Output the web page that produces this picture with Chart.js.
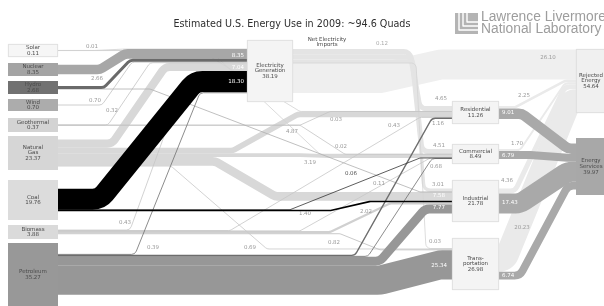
<!DOCTYPE html>
<html lang="en">
<head>
<meta charset="UTF-8">
<title>Estimated U.S. Energy Use in 2009</title>
<script src="https://cdn.jsdelivr.net/npm/chart.js"></script>
<style>
  html, body { margin: 0; padding: 0; background: #fff; }
</style>
</head>
<body>
<canvas id="flowChart" width="604" height="306"></canvas>
<script>
// --- data (quads) ---
const titleText = 'Estimated U.S. Energy Use in 2009: ~94.6 Quads';
const nodeNames = ['Solar', 'Nuclear', 'Hydro', 'Wind', 'Geothermal', 'Natural Gas', 'Coal', 'Biomass', 'Petroleum',
  'Electricity Generation', 'Net Electricity Imports', 'Residential', 'Commercial', 'Industrial', 'Transportation',
  'Rejected Energy', 'Energy Services'];
const nodeLabels = ['Solar', 'Nuclear', 'Hydro', 'Wind', 'Geothermal', 'Natural\nGas', 'Coal', 'Biomass', 'Petroleum',
  'Electricity\nGeneration', 'Net Electricity\nImports', 'Residential', 'Commercial', 'Industrial', 'Trans-\nportation',
  'Rejected\nEnergy', 'Energy\nServices'];
const nodeValues = [0.11, 8.35, 2.68, 0.70, 0.37, 23.37, 19.76, 3.88, 35.27,
  38.19, 0.12, 11.26, 8.49, 21.78, 26.98, 54.64, 39.97];

const flowFrom = [
  'Solar', 'Solar', 'Solar',
  'Nuclear',
  'Hydro', 'Hydro',
  'Wind',
  'Geothermal', 'Geothermal', 'Geothermal',
  'Natural Gas', 'Natural Gas', 'Natural Gas', 'Natural Gas', 'Natural Gas',
  'Coal', 'Coal', 'Coal',
  'Biomass', 'Biomass', 'Biomass', 'Biomass', 'Biomass',
  'Petroleum', 'Petroleum', 'Petroleum', 'Petroleum', 'Petroleum',
  'Electricity Generation', 'Electricity Generation', 'Electricity Generation', 'Electricity Generation', 'Electricity Generation',
  'Residential', 'Residential', 'Commercial', 'Commercial',
  'Industrial', 'Industrial', 'Transportation', 'Transportation'
];
const flowTo = [
  'Electricity Generation', 'Residential', 'Commercial',
  'Electricity Generation',
  'Electricity Generation', 'Industrial',
  'Electricity Generation',
  'Electricity Generation', 'Residential', 'Commercial',
  'Electricity Generation', 'Residential', 'Commercial', 'Industrial', 'Transportation',
  'Electricity Generation', 'Commercial', 'Industrial',
  'Electricity Generation', 'Residential', 'Commercial', 'Industrial', 'Transportation',
  'Electricity Generation', 'Residential', 'Commercial', 'Industrial', 'Transportation',
  'Residential', 'Commercial', 'Industrial', 'Transportation', 'Rejected Energy',
  'Rejected Energy', 'Energy Services', 'Rejected Energy', 'Energy Services',
  'Rejected Energy', 'Energy Services', 'Rejected Energy', 'Energy Services'
];
const flowValues = [
  0.01, 0.09, 0.01,
  8.35,
  2.66, 0.02,
  0.70,
  0.32, 0.03, 0.02,
  7.04, 4.87, 3.19, 7.58, 0.69,
  18.30, 0.06, 1.40,
  0.43, 0.43, 0.11, 2.02, 0.82,
  0.39, 1.16, 0.68, 7.77, 25.34,
  4.65, 4.51, 3.01, 0.03, 26.10,
  2.25, 9.01, 1.70, 6.79,
  4.36, 17.43, 20.23, 6.74
];

// --- layout (chart units; 1 quad = K units of the y scale) ---
const K = 1.15;
const nodeBox = {
  'Solar': [8, 44, 50, 13], 'Nuclear': [8, 63, 50, 13], 'Hydro': [8, 81, 50, 13],
  'Wind': [8, 99, 50, 12], 'Geothermal': [8, 118, 50, 14], 'Natural Gas': [8, 136, 50, 34],
  'Coal': [8, 180, 50, 40], 'Biomass': [8, 225, 50, 14], 'Petroleum': [8, 243, 50, 63],
  'Electricity Generation': [247, 40, 46, 62], 'Net Electricity Imports': [307, 36, 40, 12],
  'Residential': [452, 101, 47, 23], 'Commercial': [452, 144, 47, 20],
  'Industrial': [452, 180, 47, 42], 'Transportation': [452, 238, 47, 52],
  'Rejected Energy': [576, 49, 30, 64], 'Energy Services': [576, 138, 30, 57]
};
const nodeFill = {
  'Solar': '#f6f6f6', 'Nuclear': '#a4a4a4', 'Hydro': '#717171', 'Wind': '#acacac',
  'Geothermal': '#d3d3d3', 'Natural Gas': '#d6d6d6', 'Coal': '#dcdcdc', 'Biomass': '#dadada',
  'Petroleum': '#989898', 'Electricity Generation': '#f4f4f4', 'Residential': '#f4f4f4',
  'Commercial': '#f4f4f4', 'Industrial': '#f4f4f4', 'Transportation': '#f4f4f4',
  'Rejected Energy': '#f0f0f0', 'Energy Services': '#a8a8a8'
};
const bandColor = {
  'Solar': '#dcdcdc', 'Nuclear': '#a7a7a7', 'Hydro': '#6a6a6a', 'Wind': '#c2c2c2',
  'Geothermal': '#cbcbcb', 'Natural Gas': '#d8d8d8', 'Coal': '#000000', 'Biomass': '#d0d0d0',
  'Petroleum': '#979797', 'Electricity Generation': '#e4e4e4'
};
const lineColor = {
  'Solar': '#d2d2d2', 'Hydro': '#b0b0b0', 'Geothermal': '#c4c4c4', 'Natural Gas': '#c8c8c8',
  'Coal': '#333333', 'Biomass': '#c6c6c6', 'Petroleum': '#6e6e6e', 'Electricity Generation': '#d4d4d4'
};
// where each band makes its diagonal run: [start x, end x]
const flowBend = [
  [95, 125], [200, 300], [210, 320],
  [100, 125],
  [104, 130], [150, 420],
  [102, 132],
  [108, 150], [300, 330], [300, 345],
  [112, 165], [233, 298], [300, 330], [215, 275], [171, 267],
  [100, 195], [290, 420], [330, 370],
  [130, 180], [230, 420], [300, 430], [330, 390], [340, 380],
  [135, 200], [355, 432], [368, 432], [380, 425], [380, 440],
  [410, 420], [412, 422], [414, 424], [416, 426], [380, 440],
  [515, 565], [522, 568], [520, 565], [530, 568],
  [515, 565], [520, 568], [505, 570], [520, 568]
];
// value label per band: [x, dy from band centre, style, align]
const flowLabelAt = [
  [92, -3.5, 'g'], null, null,
  [244, 2, 'w', 'right'],
  [97, -8.5, 'g'], null,
  [95, -4.5, 'g'],
  [112, -8, 'g'], [336, 8.5, 'g'], [341, -5, 'g'],
  [244, 1, 'w', 'right'], [292, 13.5, 'g'], [310, 7, 'g'], [445, -1, 'w', 'right'], [250, 13.5, 'g'],
  [244, 0.5, 'w', 'right'], [351, -11.5, 'd'], [305, 3, 'g'],
  [125, -7, 'g'], [394, -7, 'g'], [379, -3, 'g'], [366, -3, 'g'], [334, 9, 'g'],
  [153, 38, 'g'], [438, 5, 'g'], [436, 8.5, 'g'], [445, -1.5, 'w', 'right'], [447, 1, 'w', 'right'],
  [441, -10, 'g'], [439, -6.5, 'g'], [438, -6, 'g'], [435, -7, 'g'], [548, -7.5, 'g'],
  [524, -6.5, 'g'], [502, -1.5, 'w', 'left'], [517, -7, 'g'], [502, 1, 'w', 'left'],
  [507, -10, 'g'], [502, -0.5, 'w', 'left'], [522, 9.6, 'g'], [502, 0, 'w', 'left']
];
const labelColor = { g: '#9a9a9a', w: '#ffffff', d: '#555555' };
const FONT = '"DejaVu Sans", Verdana, sans-serif';

function lum(hex) {
  const n = parseInt(hex.slice(1), 16);
  return 0.3 * (n >> 16) + 0.59 * ((n >> 8) & 255) + 0.11 * (n & 255);
}

// stack bands at each node, top to bottom, centred in the node box
function stackFlows() {
  const outs = {}, ins = {};
  nodeNames.forEach(n => { outs[n] = []; ins[n] = []; });
  flowFrom.forEach((f, i) => { outs[f].push(i); ins[flowTo[i]].push(i); });
  const rankOut = (src, i) => (src === 'Electricity Generation' && flowTo[i] === 'Rejected Energy') ? 999 : nodeBox[flowTo[i]][1];
  const a = [], b = [];
  nodeNames.forEach(n => {
    const box = nodeBox[n];
    const o = outs[n].sort((p, q) => rankOut(n, p) - rankOut(n, q));
    let tot = o.reduce((s, i) => s + flowValues[i] * K, 0);
    let y = box[1] + (box[3] - tot) / 2;
    o.forEach(i => { const w = flowValues[i] * K; a[i] = y + w / 2; y += w; });
    const inn = ins[n].sort((p, q) => nodeBox[flowFrom[p]][1] - nodeBox[flowFrom[q]][1]);
    tot = inn.reduce((s, i) => s + flowValues[i] * K, 0);
    y = box[1] + (box[3] - tot) / 2;
    inn.forEach(i => { const w = flowValues[i] * K; b[i] = y + w / 2; y += w; });
  });
  return { a, b };
}

const energyFlows = {
  id: 'energyFlows',
  afterDatasetsDraw(chart) {
    const ctx = chart.ctx;
    const xs = chart.scales.x, ys = chart.scales.y;
    const px = v => xs.getPixelForValue(v);
    const py = v => ys.getPixelForValue(v);
    const thick = v => Math.abs(py(v * K) - py(0));
    const { a, b } = stackFlows();

    const geo = flowValues.map((v, i) => {
      const sb = nodeBox[flowFrom[i]], tb = nodeBox[flowTo[i]];
      const x0 = sb[0] + sb[2], x1 = tb[0];
      const bx0 = Math.max(flowBend[i][0], x0), bx1 = Math.min(flowBend[i][1], x1);
      const w = thick(v);
      let color;
      if (flowTo[i] === 'Rejected Energy') color = flowFrom[i] === 'Electricity Generation' ? '#efefef' : '#eaeaea';
      else if (flowTo[i] === 'Energy Services') color = '#a9a9a9';
      else color = (w < 1.6 && lineColor[flowFrom[i]]) ? lineColor[flowFrom[i]] : bandColor[flowFrom[i]];
      return { x0, x1, bx0, bx1, a: a[i], b: b[i], w, color };
    });

    const order = geo.map((g, i) => i).sort((p, q) => (lum(geo[q].color) - lum(geo[p].color)) || (flowValues[q] - flowValues[p]));

    ctx.save();
    ctx.lineCap = 'butt';
    ctx.lineJoin = 'round';
    order.forEach(i => {
      const g = geo[i];
      const A = py(g.a), B = py(g.b), X0 = px(g.x0), X1 = px(g.x1), BX0 = px(g.bx0), BX1 = px(g.bx1);
      ctx.beginPath();
      ctx.moveTo(X0, A);
      if (Math.abs(B - A) < 0.05) {
        ctx.lineTo(X1, B);
      } else {
        const dx = BX1 - BX0, dy = B - A;
        const t = Math.tan(Math.atan2(Math.abs(dy), dx) / 2);
        const avail = Math.min(BX0 - X0, X1 - BX1, Math.hypot(dx, dy) / 2);
        const r = Math.min(g.w / 2 + 5, t > 0 ? avail / t : 0);
        if (r < 0.5) {
          ctx.lineTo(BX0, A); ctx.lineTo(BX1, B); ctx.lineTo(X1, B);
        } else {
          ctx.arcTo(BX0, A, BX1, B, r);
          ctx.arcTo(BX1, B, X1, B, r);
          ctx.lineTo(X1, B);
        }
      }
      ctx.lineWidth = Math.max(g.w, 0.8);
      ctx.strokeStyle = g.color;
      ctx.stroke();
    });

    // node boxes and labels
    ctx.textAlign = 'center';
    ctx.textBaseline = 'middle';
    nodeNames.forEach((n, i) => {
      const [x, y, w, h] = nodeBox[n];
      const lines = nodeLabels[i].split('\n');
      if (nodeFill[n]) {
        ctx.fillStyle = nodeFill[n];
        ctx.fillRect(px(x), py(y), px(x + w) - px(x), py(y + h) - py(y));
        if (lum(nodeFill[n]) > 225) {
          ctx.strokeStyle = '#d6d6d6';
          ctx.lineWidth = 0.7;
          ctx.strokeRect(px(x) + 0.35, py(y) + 0.35, px(x + w) - px(x) - 0.7, py(y + h) - py(y) - 0.7);
        }
        lines.push(nodeValues[i].toFixed(2));
      }
      ctx.font = '5.5px ' + FONT;
      ctx.fillStyle = '#4a4a4a';
      const lh = 5.8, cy = py(y + h / 2);
      lines.forEach((s, k) => ctx.fillText(s, px(x + w / 2), cy + (k - (lines.length - 1) / 2) * lh));
      if (!nodeFill[n]) {
        ctx.fillStyle = '#aaaaaa';
        ctx.fillText(nodeValues[i].toFixed(2), px(x + w + 35), cy + 2);
      }
    });

    // value labels on the bands
    ctx.font = '5.5px ' + FONT;
    flowLabelAt.forEach((lab, i) => {
      if (!lab) return;
      const g = geo[i];
      const [lx, dy, style, align] = lab;
      let c = g.a;
      if (lx >= g.bx1) c = g.b;
      else if (lx > g.bx0) c = g.a + (g.b - g.a) * (lx - g.bx0) / (g.bx1 - g.bx0);
      ctx.textAlign = align || 'center';
      ctx.fillStyle = labelColor[style];
      ctx.fillText(flowValues[i].toFixed(2), px(lx), py(c + dy));
    });

    // title
    ctx.textAlign = 'center';
    ctx.textBaseline = 'alphabetic';
    ctx.fillStyle = '#2e2e2e';
    ctx.font = '9.6px ' + FONT;
    ctx.fillText(titleText, 292, 27);

    // lab mark
    ctx.fillStyle = '#b4b4b4';
    ctx.fillRect(455, 13, 23, 21);
    ctx.strokeStyle = '#ffffff';
    ctx.lineWidth = 1.4;
    for (let k = 0; k < 3; k++) {
      ctx.beginPath();
      ctx.moveTo(459 + k * 4, 13);
      ctx.lineTo(459 + k * 4, 30 - k * 4);
      ctx.lineTo(478, 30 - k * 4);
      ctx.stroke();
    }
    ctx.textAlign = 'left';
    ctx.fillStyle = '#9d9d9d';
    ctx.font = '13.8px "Liberation Sans", Arial, sans-serif';
    ctx.fillText('Lawrence Livermore', 481, 21);
    ctx.fillText('National Laboratory', 481, 33);
    ctx.restore();
  }
};

new Chart(document.getElementById('flowChart'), {
  type: 'scatter',
  data: { datasets: [] },
  options: {
    responsive: false,
    animation: false,
    events: [],
    layout: { padding: 0 },
    plugins: { legend: { display: false }, tooltip: { enabled: false } },
    scales: {
      x: { type: 'linear', min: 0, max: 604, display: false },
      y: { type: 'linear', min: 0, max: 306, reverse: true, display: false }
    }
  },
  plugins: [energyFlows]
});
</script>
</body>
</html>
